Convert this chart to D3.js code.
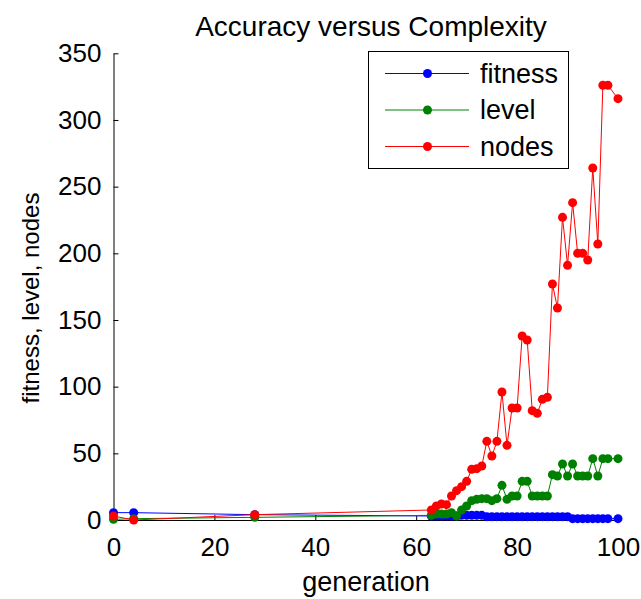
<!DOCTYPE html>
<html>
<head>
<meta charset="utf-8">
<script src="https://cdn.jsdelivr.net/npm/d3@7"></script>
<style>
  body { margin: 0; background: #fff; }
  text { font-family: "Liberation Sans", Arial, Helvetica, sans-serif; }
</style>
</head>
<body>
<div id="chart"></div>
<script>
// generations that were logged
var generation = [0, 4, 28, 63, 64, 65, 66, 67, 68, 69, 70, 71, 72, 73, 74, 75, 76, 77, 78, 79,
  80, 81, 82, 83, 84, 85, 86, 87, 88, 89, 90, 91, 92, 93, 94, 95, 96, 97, 98, 100];

var fitness = [5.5, 5.5, 4, 3, 3, 3, 3, 3, 3, 3.5, 3.5, 3.5, 3.5, 3.5, 2.5, 2.5, 2.5, 2.5, 2.5, 2.5,
  2.5, 2.5, 2.5, 2.5, 2.5, 2.5, 2.5, 2.5, 2.5, 2.5, 2.5, 1, 1, 1, 1, 1, 1, 1, 1, 1];

var level = [0.5, 1, 2, 3.5, 4.5, 4.5, 4.5, 5.5, 3, 7.5, 10.5, 14.5, 15.5, 16, 16, 14.5, 16, 26, 15.5, 18,
  18, 29, 29, 18, 18, 18, 18, 34, 33, 42, 33, 42, 33, 33, 33, 46, 33, 46, 46, 46];

var nodes = [3, 0, 4, 7.5, 10.5, 12, 11.5, 18, 22, 25, 29, 38, 38.5, 40.5, 59, 48, 59, 96, 56, 84,
  84, 138, 135, 82, 80, 90.5, 92, 177, 159, 227, 191, 238, 200, 200, 195, 264, 207, 326, 326, 316];

var seriesNames = ["fitness", "level", "nodes"];
var seriesColors = ["#0000ff", "#008000", "#ff0000"];
var xTicks = [0, 20, 40, 60, 80, 100];
var yTicks = [0, 50, 100, 150, 200, 250, 300, 350];

var width = 641, height = 599;

var svg = d3.select("#chart")
  .append("svg")
  .attr("width", width)
  .attr("height", height);

var x = d3.scaleLinear().domain([0, 100]).range([113.5, 618]);
var y = d3.scaleLinear().domain([0, 350]).range([520, 53.3]);

// axes, ticks pointing inward like matlab
var xAxis = svg.append("g")
  .attr("transform", "translate(0," + y(0) + ")")
  .call(d3.axisBottom(x).tickValues(xTicks).tickSizeInner(-5).tickSizeOuter(0).tickPadding(18));

var yAxis = svg.append("g")
  .attr("transform", "translate(" + x(0) + ",0)")
  .call(d3.axisLeft(y).tickValues(yTicks).tickSizeInner(-5).tickSizeOuter(0).tickPadding(12));

[xAxis, yAxis].forEach(function(a) {
  a.select(".domain").attr("stroke", "#000");
  a.selectAll(".tick line").attr("stroke", "#000");
  a.selectAll(".tick text")
    .attr("fill", "#000")
    .style("font-size", "26px")
    .style("font-family", "'Liberation Sans', Arial, sans-serif");
});

var allSeries = [fitness, level, nodes];

var line = d3.line()
  .x(function(d) { return x(d[0]); })
  .y(function(d) { return y(d[1]); });

allSeries.forEach(function(vals, i) {
  var pts = generation.map(function(g, j) { return [g, vals[j]]; });
  var g = svg.append("g");
  g.append("path")
    .datum(pts)
    .attr("d", line)
    .style("fill", "none")
    .style("stroke", seriesColors[i])
    .style("stroke-width", 1);
  g.selectAll("circle")
    .data(pts)
    .enter()
    .append("circle")
    .attr("cx", function(d) { return x(d[0]); })
    .attr("cy", function(d) { return y(d[1]); })
    .attr("r", 4.5)
    .style("fill", seriesColors[i]);
});

// Title
svg.append("text")
  .attr("x", 371)
  .attr("y", 36)
  .attr("text-anchor", "middle")
  .style("font-size", "28px")
  .text("Accuracy versus Complexity");

// X label
svg.append("text")
  .attr("x", 366)
  .attr("y", 591)
  .attr("text-anchor", "middle")
  .style("font-size", "27px")
  .text("generation");

// Y label
svg.append("text")
  .attr("text-anchor", "middle")
  .attr("transform", "translate(39,298)rotate(-90)")
  .style("font-size", "24px")
  .text("fitness, level, nodes");

// legend
var legend = svg.append("g");
legend.append("rect")
  .attr("x", 368.5)
  .attr("y", 51.5)
  .attr("width", 200)
  .attr("height", 117)
  .style("fill", "#fff")
  .style("stroke", "#000")
  .style("stroke-width", 1);

var legendRow = d3.scaleLinear().domain([0, 2]).range([73.5, 146.5]);

seriesNames.forEach(function(name, i) {
  var ly = legendRow(i);
  legend.append("line")
    .attr("x1", 385).attr("x2", 469)
    .attr("y1", ly).attr("y2", ly)
    .style("stroke", seriesColors[i])
    .style("stroke-width", 1);
  legend.append("circle")
    .attr("cx", 427.5).attr("cy", ly)
    .attr("r", 4.5)
    .style("fill", seriesColors[i]);
  legend.append("text")
    .attr("x", 480)
    .attr("y", ly)
    .attr("dy", "0.35em")
    .style("font-size", "27px")
    .text(name);
});
</script>
</body>
</html>
